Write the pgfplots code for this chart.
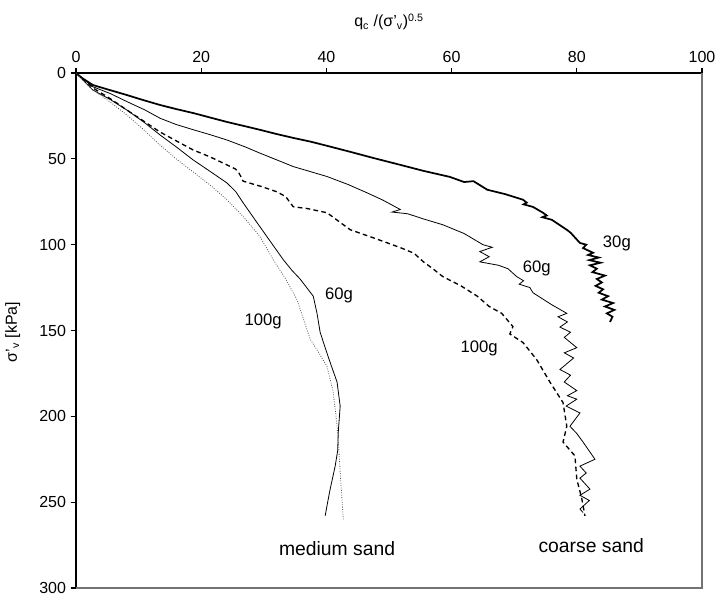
\documentclass[border=0pt]{standalone}
\usepackage{fontspec}
\setmainfont{Liberation Sans}
\usepackage{pgfplots}
\pgfplotsset{compat=1.18}
\begin{document}
\begin{tikzpicture}
\useasboundingbox (0,0) rectangle (537pt,-447.75pt);
\begin{axis}[
  at={(57pt,-54.75pt)}, anchor=north west,
  scale only axis, width=469.5pt, height=386.25pt,
  xmin=0, xmax=100, ymin=0, ymax=300, y dir=reverse,
  axis x line*=top, axis y line*=left,
  axis line style={-, black, line width=0.8pt},
  tick align=outside, major tick length=4pt,
  tick style={black, line width=0.8pt},
  xtick={0,20,...,100}, ytick={0,50,...,300},
  /pgf/number format/assume math mode=true,
  tick label style={font=\fontsize{12}{14}\selectfont},
  clip=false,
]
% coarse sand 30g
\addplot[black, line width=1.3pt] coordinates {
(0,0) (1,3) (2.7,7) (5,9.5) (8.1,12.8) (10.5,15.5) (13.4,18.6) (16,21) (18.7,23.3)
(21.5,26) (24.1,28.5) (27,31) (29.4,33.1) (32,35.5) (34.7,37.8) (37.5,40) (40.1,42.4)
(43.8,45.9) (47.5,49.5) (51.8,53.5) (55.5,57) (59.7,60.5) (62,63.5) (63.5,63) (65.7,68)
(68.5,70.5) (71.4,73.8) (72,75.5) (71.5,76.5) (73,78) (74.6,81.4) (75.2,83) (74.5,84)
(76,85.5) (78.4,91.3) (79,93) (79.5,95) (80.5,99) (81.5,100) (81,102) (82.6,104.7)
(81.8,106) (83.5,107.5) (82,109) (83.8,110.5) (82.1,112) (83.2,114) (82.5,116) (84.5,118)
(83.2,120) (84,122) (83,124) (84.2,126) (83.5,128) (85,130) (84,132) (85.8,134)
(84.5,136) (86,138) (84.8,140) (85.7,142) (85.3,145)
};
% coarse sand 60g
\addplot[black, line width=0.6pt] coordinates {
(0,0) (2.7,8) (5.5,12) (8.1,16.6) (11,21.5) (13.4,26.3) (16,30) (18.7,33) (21.5,36)
(24.1,39) (27,43) (29.4,46.7) (32,50.5) (34.7,54.5) (37.5,57.5) (40.1,60.3) (43.5,65)
(46.5,69.8) (49,74) (51.8,79.5) (50.5,81) (53,82) (55.5,85) (58.6,88.4) (62,93.5)
(65,100) (66.5,101.5) (64.5,104) (66,107) (64.5,110) (67.5,112) (69,114) (70.4,118.6)
(71.5,121) (70.8,123) (72.5,125) (73,128) (76,135) (78.4,140) (77,142) (78.5,145)
(77.3,148) (79,151) (78,154) (80,160) (78,163) (79.5,166) (77.3,172.7) (79,176)
(78,180) (80,185) (78.5,188) (80,190) (78.3,194) (80.5,198) (78.9,205.8) (80,210)
(81,215) (82.9,225) (80.5,229) (81.5,233) (80.5,236) (82.1,242.4) (80.5,246) (82,249)
(80.5,254) (81,256)
};
% coarse sand 100g
\addplot[black, line width=1pt, dash pattern=on 3.5pt off 2.5pt] coordinates {
(0,0) (2.7,8.7) (5.5,15) (8.1,21.5) (10.8,28) (13.4,34.3) (16,39.5) (18.7,44.8)
(21.5,49) (24.1,53.5) (25.5,56) (26,58) (26.7,63) (29.5,66) (32.1,69.2) (33.5,72)
(34.7,77.9) (37,79) (40.1,81.4) (43.8,91.3) (47.5,96) (51.8,101.7) (54,105) (55.5,110)
(57,114) (58.6,118.6) (61.5,124) (64.1,130) (66,136) (68,140) (69.8,147.7) (69.3,152)
(71.4,157) (73.6,167) (75.7,180) (77.8,192) (78.4,205.8) (77.8,215) (79.7,223)
(80,236.6) (80.8,248) (81.3,258)
};
% medium sand 60g
\addplot[black, line width=0.6pt] coordinates {
(0,0) (2.7,9.9) (5.5,15.5) (8.1,21.5) (10.8,28.5) (13.4,36) (16,43) (18.7,50.6)
(21.5,57.5) (24.1,64) (25.5,69) (26.7,75.6) (28.5,85) (30.5,95.3) (31.8,102)
(33.1,108.7) (34.5,115) (35.8,120) (37.9,130) (38.5,140) (39,151) (39.8,160)
(40.6,168.6) (41.7,180) (42.2,194) (41.9,209) (41.8,220) (41.4,229) (40.6,242.4)
(40.2,250) (39.8,258)
};
% medium sand 100g
\addplot[black!70, line width=0.6pt, dash pattern=on 0.6pt off 1.2pt] coordinates {
(0,0) (2.7,10) (5.5,17) (8.1,24.4) (10.8,33) (13.4,41.9) (16,50) (18.7,57.6)
(21.5,65.5) (24.1,73.8) (26.8,84) (29.4,95.3) (31.5,108.7) (33.5,120) (35.3,132)
(37.4,155) (38.8,163) (40.1,171) (41.1,186) (41.7,205.8) (42,220) (42.2,232.6) (42.7,260)
};
\draw[black!55, line width=0.8pt] (axis cs:0,300) -- (axis cs:100,300) -- (axis cs:100,0);
\node[font=\fontsize{12.5}{14}\selectfont] at (axis cs:86.4,99) {30g};
\node[font=\fontsize{12.5}{14}\selectfont] at (axis cs:73.6,114) {60g};
\node[font=\fontsize{12.5}{14}\selectfont] at (axis cs:64.4,160.5) {100g};
\node[font=\fontsize{12.5}{14}\selectfont] at (axis cs:42,129.5) {60g};
\node[font=\fontsize{12.5}{14}\selectfont] at (axis cs:29.9,144.5) {100g};
\node[font=\fontsize{14.5}{16}\selectfont] at (axis cs:41.7,277) {medium sand};
\node[font=\fontsize{14.5}{16}\selectfont] at (axis cs:82.3,275.5) {coarse sand};
\end{axis}
\node[font=\fontsize{12}{14}\selectfont] at (291.75pt,-16.5pt) {q\textsubscript{c} /(σ'\textsubscript{v})\textsuperscript{0.5}};
\node[font=\fontsize{12}{14}\selectfont, rotate=90] at (9.5pt,-249pt) {σ'\textsubscript{v} [kPa]};
\end{tikzpicture}
\end{document}
